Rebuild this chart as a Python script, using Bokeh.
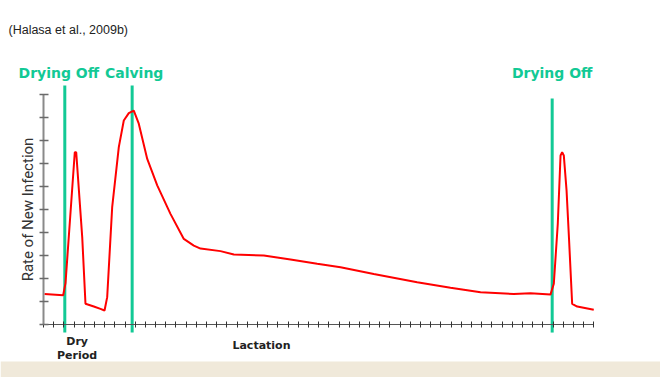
from bokeh.plotting import figure
from bokeh.models import Range1d, FixedTicker, Label, BoxAnnotation, CustomJSTickFormatter
from bokeh.embed import file_html
from bokeh.resources import INLINE

# ---- data (time in axis tick units, rate in y-tick units) ----
time_x = [0.10, 1.93, 2.16, 3.07, 3.21, 3.80, 4.12, 4.94, 5.59, 5.99,
          6.25, 6.74, 7.39, 7.88, 8.37, 8.86, 9.35, 10.18, 11.16, 12.46,
          13.77, 14.75, 15.41, 17.37, 18.68, 21.62, 24.24, 26.86, 29.15, 32.41,
          36.67, 39.94, 42.89, 46.15, 47.79, 49.75, 50.08, 50.47, 50.74, 50.90,
          51.06, 51.33, 51.58, 51.88, 52.38, 54.00]
infection_rate = [1.33, 1.27, 1.80, 7.49, 7.49, 3.80, 0.90, 0.78, 0.68, 0.61,
                  1.19, 5.10, 7.71, 8.87, 9.19, 9.30, 8.73, 7.20, 6.05, 4.81,
                  3.72, 3.43, 3.30, 3.19, 3.04, 3.00, 2.83, 2.64, 2.49, 2.20,
                  1.84, 1.60, 1.40, 1.33, 1.36, 1.30, 1.77, 4.38, 7.35, 7.49,
                  7.35, 5.83, 3.65, 0.90, 0.78, 0.64]
event_x = [2.09, 8.70, 49.92]
event_top = [10.39, 10.39, 9.83]
event_labels = ["Drying Off", "Calving", "Drying Off"]
x_ticks = list(range(0, 55))
y_ticks = list(range(0, 11))
source_note = "(Halasa et al., 2009b)"
y_title = "Rate of New Infection"
phase_labels = ["Dry\nPeriod", "Lactation"]
phase_x = [3.3, 21.39]

PX_X = 10.19
PX_Y = 23.0
GREEN = "#12c995"

p = figure(width=660, height=377,
           x_range=Range1d(-43 / PX_X, 617 / PX_X),
           y_range=Range1d(-53 / PX_Y, 324 / PX_Y),
           output_backend="svg", toolbar_location=None, min_border=0)
p.outline_line_color = None
p.grid.visible = False
p.background_fill_color = "white"
p.border_fill_color = "white"

# slide background band at the bottom
p.add_layout(BoxAnnotation(top=-37 / PX_Y, fill_color="#f0e9da", fill_alpha=1.0,
                           line_color=None, level="underlay"))

# axes
empty = CustomJSTickFormatter(code="return ''")
xa = p.xaxis[0]
xa.fixed_location = 0
xa.bounds = (-0.3, 54)
xa.ticker = FixedTicker(ticks=x_ticks)
xa.formatter = empty
xa.axis_line_color = "#555555"
xa.major_tick_line_color = "#333333"
xa.major_tick_in = 3
xa.major_tick_out = 3
xa.minor_tick_line_color = None

ya = p.yaxis[0]
ya.fixed_location = 0
ya.bounds = (0, 10)
ya.ticker = FixedTicker(ticks=y_ticks)
ya.formatter = empty
ya.axis_line_color = "#8a8a8a"
ya.axis_line_width = 2
ya.major_tick_line_color = "#6a6a6a"
ya.major_tick_line_width = 1.5
ya.major_tick_in = 5
ya.major_tick_out = 4
ya.minor_tick_line_color = None
ya.axis_label = y_title
ya.axis_label_text_font = "Roboto"
ya.axis_label_text_font_size = "15px"
ya.axis_label_text_font_style = "normal"
ya.axis_label_text_color = "#333333"
ya.axis_label_standoff = 3
ya.major_label_standoff = 0

# event lines
bottoms = [-0.35] * len(event_x)
p.segment(x0=event_x, y0=bottoms, x1=event_x, y1=event_top,
          line_color=GREEN, line_width=3)

# curve
p.line(time_x, infection_rate, line_color="#ff0000", line_width=2)

# event labels
offsets = [-6, 2, 0]
for ex, lab, off in zip(event_x, event_labels, offsets):
    p.add_layout(Label(x=ex, y=10.95, x_offset=off, text=lab, text_align="center",
                       text_baseline="middle", text_font="DejaVu Sans",
                       text_font_style="bold", text_font_size="14px",
                       text_color=GREEN))

# phase labels
p.add_layout(Label(x=phase_x[0], y=-1.04, text=phase_labels[0], text_align="center",
                   text_baseline="middle", text_font="DejaVu Sans",
                   text_font_style="bold", text_font_size="11px",
                   text_color="#222222", text_line_height=1.1))
p.add_layout(Label(x=phase_x[1], y=-0.91, text=phase_labels[1], text_align="center",
                   text_baseline="middle", text_font="DejaVu Sans",
                   text_font_style="bold", text_font_size="11px",
                   text_color="#222222"))

# source note
p.add_layout(Label(x=-35 / PX_X, y=295 / PX_Y, text=source_note, text_align="left",
                   text_baseline="middle", text_font="Liberation Sans",
                   text_font_size="12.5px", text_color="#222222"))

open("out.html", "w").write(file_html(p, INLINE))
